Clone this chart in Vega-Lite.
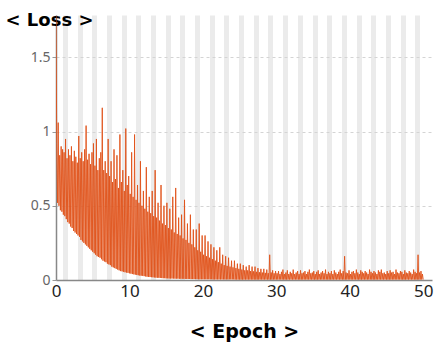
{
  "$schema": "https://vega.github.io/schema/vega-lite/v6.json",
  "width": 376,
  "height": 265,
  "autosize": {"type": "none"},
  "padding": {"left": 56, "top": 15, "right": 3, "bottom": 65},
  "background": "white",
  "config": {"view": {"stroke": null}, "font": "Noto Sans"},
  "data": {"values": [
{"e":0,"l":1.78},{"e":0.1,"l":0.92},{"e":0.2,"l":0.52},{"e":0.3,"l":1.06},{"e":0.4,"l":0.50},{"e":0.5,"l":0.84},{"e":0.6,"l":0.47},{"e":0.7,"l":0.90},{"e":0.8,"l":0.46},{"e":0.9,"l":0.88},
{"e":1,"l":0.44},{"e":1.1,"l":0.86},{"e":1.2,"l":0.43},{"e":1.3,"l":0.95},{"e":1.4,"l":0.41},{"e":1.5,"l":0.82},{"e":1.6,"l":0.39},{"e":1.7,"l":0.88},{"e":1.8,"l":0.38},{"e":1.9,"l":0.84},
{"e":2,"l":0.36},{"e":2.1,"l":0.90},{"e":2.2,"l":0.35},{"e":2.3,"l":0.80},{"e":2.4,"l":0.33},{"e":2.5,"l":0.87},{"e":2.6,"l":0.32},{"e":2.7,"l":0.83},{"e":2.8,"l":0.31},{"e":2.9,"l":0.79},
{"e":3,"l":0.30},{"e":3.1,"l":0.97},{"e":3.2,"l":0.29},{"e":3.3,"l":0.82},{"e":3.4,"l":0.27},{"e":3.5,"l":0.86},{"e":3.6,"l":0.26},{"e":3.7,"l":0.80},{"e":3.8,"l":0.25},{"e":3.9,"l":0.88},
{"e":4,"l":0.24},{"e":4.1,"l":1.04},{"e":4.2,"l":0.23},{"e":4.3,"l":0.81},{"e":4.4,"l":0.22},{"e":4.5,"l":0.85},{"e":4.6,"l":0.21},{"e":4.7,"l":0.78},{"e":4.8,"l":0.20},{"e":4.9,"l":0.86},
{"e":5,"l":0.19},{"e":5.1,"l":0.92},{"e":5.2,"l":0.18},{"e":5.3,"l":0.77},{"e":5.4,"l":0.17},{"e":5.5,"l":0.95},{"e":5.6,"l":0.16},{"e":5.7,"l":0.74},{"e":5.8,"l":0.155},{"e":5.9,"l":0.82},
{"e":6,"l":0.15},{"e":6.1,"l":0.86},{"e":6.2,"l":0.14},{"e":6.3,"l":1.16},{"e":6.4,"l":0.13},{"e":6.5,"l":0.74},{"e":6.6,"l":0.125},{"e":6.7,"l":0.80},{"e":6.8,"l":0.12},{"e":6.9,"l":0.72},
{"e":7,"l":0.11},{"e":7.1,"l":0.95},{"e":7.2,"l":0.105},{"e":7.3,"l":0.70},{"e":7.4,"l":0.10},{"e":7.5,"l":0.80},{"e":7.6,"l":0.09},{"e":7.7,"l":0.66},{"e":7.8,"l":0.085},{"e":7.9,"l":0.88},
{"e":8,"l":0.08},{"e":8.1,"l":0.68},{"e":8.2,"l":0.075},{"e":8.3,"l":0.84},{"e":8.4,"l":0.07},{"e":8.5,"l":0.62},{"e":8.6,"l":0.065},{"e":8.7,"l":0.98},{"e":8.8,"l":0.06},{"e":8.9,"l":0.66},
{"e":9,"l":0.058},{"e":9.1,"l":0.74},{"e":9.2,"l":0.055},{"e":9.3,"l":0.60},{"e":9.4,"l":0.052},{"e":9.5,"l":1.02},{"e":9.6,"l":0.05},{"e":9.7,"l":0.64},{"e":9.8,"l":0.048},{"e":9.9,"l":0.70},
{"e":10,"l":0.045},{"e":10.1,"l":0.58},{"e":10.2,"l":0.043},{"e":10.3,"l":0.86},{"e":10.4,"l":0.04},{"e":10.5,"l":0.56},{"e":10.6,"l":0.038},{"e":10.7,"l":0.98},{"e":10.8,"l":0.036},{"e":10.9,"l":0.54},
{"e":11,"l":0.034},{"e":11.1,"l":0.64},{"e":11.2,"l":0.032},{"e":11.3,"l":0.52},{"e":11.4,"l":0.03},{"e":11.5,"l":0.80},{"e":11.6,"l":0.029},{"e":11.7,"l":0.50},{"e":11.8,"l":0.028},{"e":11.9,"l":0.60},
{"e":12,"l":0.026},{"e":12.1,"l":0.48},{"e":12.2,"l":0.024},{"e":12.3,"l":0.76},{"e":12.4,"l":0.022},{"e":12.5,"l":0.46},{"e":12.6,"l":0.021},{"e":12.7,"l":0.56},{"e":12.8,"l":0.02},{"e":12.9,"l":0.45},
{"e":13,"l":0.019},{"e":13.1,"l":0.60},{"e":13.2,"l":0.018},{"e":13.3,"l":0.43},{"e":13.4,"l":0.017},{"e":13.5,"l":0.74},{"e":13.6,"l":0.016},{"e":13.7,"l":0.42},{"e":13.8,"l":0.015},{"e":13.9,"l":0.52},
{"e":14,"l":0.015},{"e":14.1,"l":0.40},{"e":14.2,"l":0.014},{"e":14.3,"l":0.64},{"e":14.4,"l":0.013},{"e":14.5,"l":0.38},{"e":14.6,"l":0.012},{"e":14.7,"l":0.50},{"e":14.8,"l":0.012},{"e":14.9,"l":0.37},
{"e":15,"l":0.011},{"e":15.1,"l":0.52},{"e":15.2,"l":0.011},{"e":15.3,"l":0.35},{"e":15.4,"l":0.01},{"e":15.5,"l":0.48},{"e":15.6,"l":0.01},{"e":15.7,"l":0.34},{"e":15.8,"l":0.01},{"e":15.9,"l":0.56},
{"e":16,"l":0.01},{"e":16.1,"l":0.32},{"e":16.2,"l":0.009},{"e":16.3,"l":0.62},{"e":16.4,"l":0.009},{"e":16.5,"l":0.31},{"e":16.6,"l":0.009},{"e":16.7,"l":0.42},{"e":16.8,"l":0.008},{"e":16.9,"l":0.30},
{"e":17,"l":0.008},{"e":17.1,"l":0.44},{"e":17.2,"l":0.008},{"e":17.3,"l":0.28},{"e":17.4,"l":0.008},{"e":17.5,"l":0.54},{"e":17.6,"l":0.007},{"e":17.7,"l":0.27},{"e":17.8,"l":0.007},{"e":17.9,"l":0.38},
{"e":18,"l":0.007},{"e":18.1,"l":0.25},{"e":18.2,"l":0.007},{"e":18.3,"l":0.44},{"e":18.4,"l":0.006},{"e":18.5,"l":0.24},{"e":18.6,"l":0.006},{"e":18.7,"l":0.34},{"e":18.8,"l":0.006},{"e":18.9,"l":0.22},
{"e":19,"l":0.006},{"e":19.1,"l":0.34},{"e":19.2,"l":0.006},{"e":19.3,"l":0.20},{"e":19.4,"l":0.005},{"e":19.5,"l":0.38},{"e":19.6,"l":0.005},{"e":19.7,"l":0.19},{"e":19.8,"l":0.005},{"e":19.9,"l":0.30},
{"e":20,"l":0.005},{"e":20.1,"l":0.17},{"e":20.2,"l":0.005},{"e":20.3,"l":0.30},{"e":20.4,"l":0.005},{"e":20.5,"l":0.16},{"e":20.6,"l":0.005},{"e":20.7,"l":0.26},{"e":20.8,"l":0.005},{"e":20.9,"l":0.15},
{"e":21,"l":0.005},{"e":21.1,"l":0.24},{"e":21.2,"l":0.005},{"e":21.3,"l":0.14},{"e":21.4,"l":0.004},{"e":21.5,"l":0.22},{"e":21.6,"l":0.004},{"e":21.7,"l":0.13},{"e":21.8,"l":0.004},{"e":21.9,"l":0.20},
{"e":22,"l":0.004},{"e":22.1,"l":0.12},{"e":22.2,"l":0.004},{"e":22.3,"l":0.22},{"e":22.4,"l":0.004},{"e":22.5,"l":0.11},{"e":22.6,"l":0.004},{"e":22.7,"l":0.17},{"e":22.8,"l":0.004},{"e":22.9,"l":0.10},
{"e":23,"l":0.004},{"e":23.1,"l":0.16},{"e":23.2,"l":0.004},{"e":23.3,"l":0.095},{"e":23.4,"l":0.004},{"e":23.5,"l":0.15},{"e":23.6,"l":0.004},{"e":23.7,"l":0.09},{"e":23.8,"l":0.004},{"e":23.9,"l":0.13},
{"e":24,"l":0.004},{"e":24.1,"l":0.085},{"e":24.2,"l":0.004},{"e":24.3,"l":0.13},{"e":24.4,"l":0.003},{"e":24.5,"l":0.08},{"e":24.6,"l":0.003},{"e":24.7,"l":0.11},{"e":24.8,"l":0.003},{"e":24.9,"l":0.075},
{"e":25,"l":0.003},{"e":25.1,"l":0.11},{"e":25.2,"l":0.003},{"e":25.3,"l":0.07},{"e":25.4,"l":0.003},{"e":25.5,"l":0.10},{"e":25.6,"l":0.003},{"e":25.7,"l":0.065},{"e":25.8,"l":0.003},{"e":25.9,"l":0.09},
{"e":26,"l":0.003},{"e":26.1,"l":0.065},{"e":26.2,"l":0.003},{"e":26.3,"l":0.10},{"e":26.4,"l":0.003},{"e":26.5,"l":0.06},{"e":26.6,"l":0.003},{"e":26.7,"l":0.09},{"e":26.8,"l":0.003},{"e":26.9,"l":0.058},
{"e":27,"l":0.003},{"e":27.1,"l":0.09},{"e":27.2,"l":0.003},{"e":27.3,"l":0.055},{"e":27.4,"l":0.003},{"e":27.5,"l":0.08},{"e":27.6,"l":0.003},{"e":27.7,"l":0.052},{"e":27.8,"l":0.003},{"e":27.9,"l":0.075},
{"e":28,"l":0.003},{"e":28.1,"l":0.05},{"e":28.2,"l":0.003},{"e":28.3,"l":0.075},{"e":28.4,"l":0.003},{"e":28.5,"l":0.048},{"e":28.6,"l":0.003},{"e":28.7,"l":0.07},{"e":28.8,"l":0.003},{"e":28.9,"l":0.046},
{"e":29,"l":0.003},{"e":29.1,"l":0.17},{"e":29.2,"l":0.003},{"e":29.3,"l":0.05},{"e":29.4,"l":0.003},{"e":29.5,"l":0.065},{"e":29.6,"l":0.003},{"e":29.7,"l":0.045},{"e":29.8,"l":0.003},{"e":29.9,"l":0.06},
{"e":30,"l":0.003},{"e":30.1,"l":0.045},{"e":30.2,"l":0.003},{"e":30.3,"l":0.06},{"e":30.4,"l":0.003},{"e":30.5,"l":0.04},{"e":30.6,"l":0.003},{"e":30.7,"l":0.055},{"e":30.8,"l":0.003},{"e":30.9,"l":0.07},
{"e":31,"l":0.003},{"e":31.1,"l":0.04},{"e":31.2,"l":0.003},{"e":31.3,"l":0.05},{"e":31.4,"l":0.003},{"e":31.5,"l":0.065},{"e":31.6,"l":0.003},{"e":31.7,"l":0.04},{"e":31.8,"l":0.003},{"e":31.9,"l":0.055},
{"e":32,"l":0.003},{"e":32.1,"l":0.045},{"e":32.2,"l":0.003},{"e":32.3,"l":0.07},{"e":32.4,"l":0.003},{"e":32.5,"l":0.04},{"e":32.6,"l":0.003},{"e":32.7,"l":0.05},{"e":32.8,"l":0.003},{"e":32.9,"l":0.06},
{"e":33,"l":0.003},{"e":33.1,"l":0.04},{"e":33.2,"l":0.003},{"e":33.3,"l":0.065},{"e":33.4,"l":0.003},{"e":33.5,"l":0.045},{"e":33.6,"l":0.003},{"e":33.7,"l":0.05},{"e":33.8,"l":0.003},{"e":33.9,"l":0.06},
{"e":34,"l":0.003},{"e":34.1,"l":0.04},{"e":34.2,"l":0.003},{"e":34.3,"l":0.055},{"e":34.4,"l":0.003},{"e":34.5,"l":0.07},{"e":34.6,"l":0.003},{"e":34.7,"l":0.045},{"e":34.8,"l":0.003},{"e":34.9,"l":0.05},
{"e":35,"l":0.003},{"e":35.1,"l":0.06},{"e":35.2,"l":0.003},{"e":35.3,"l":0.04},{"e":35.4,"l":0.003},{"e":35.5,"l":0.055},{"e":35.6,"l":0.003},{"e":35.7,"l":0.065},{"e":35.8,"l":0.003},{"e":35.9,"l":0.04},
{"e":36,"l":0.003},{"e":36.1,"l":0.05},{"e":36.2,"l":0.003},{"e":36.3,"l":0.06},{"e":36.4,"l":0.003},{"e":36.5,"l":0.045},{"e":36.6,"l":0.003},{"e":36.7,"l":0.07},{"e":36.8,"l":0.003},{"e":36.9,"l":0.04},
{"e":37,"l":0.003},{"e":37.1,"l":0.055},{"e":37.2,"l":0.003},{"e":37.3,"l":0.045},{"e":37.4,"l":0.003},{"e":37.5,"l":0.06},{"e":37.6,"l":0.003},{"e":37.7,"l":0.04},{"e":37.8,"l":0.003},{"e":37.9,"l":0.065},
{"e":38,"l":0.003},{"e":38.1,"l":0.05},{"e":38.2,"l":0.003},{"e":38.3,"l":0.04},{"e":38.4,"l":0.003},{"e":38.5,"l":0.055},{"e":38.6,"l":0.003},{"e":38.7,"l":0.07},{"e":38.8,"l":0.003},{"e":38.9,"l":0.045},
{"e":39,"l":0.003},{"e":39.1,"l":0.06},{"e":39.2,"l":0.003},{"e":39.3,"l":0.16},{"e":39.4,"l":0.003},{"e":39.5,"l":0.05},{"e":39.6,"l":0.003},{"e":39.7,"l":0.045},{"e":39.8,"l":0.003},{"e":39.9,"l":0.065},
{"e":40,"l":0.003},{"e":40.1,"l":0.04},{"e":40.2,"l":0.003},{"e":40.3,"l":0.055},{"e":40.4,"l":0.003},{"e":40.5,"l":0.06},{"e":40.6,"l":0.003},{"e":40.7,"l":0.045},{"e":40.8,"l":0.003},{"e":40.9,"l":0.07},
{"e":41,"l":0.003},{"e":41.1,"l":0.05},{"e":41.2,"l":0.003},{"e":41.3,"l":0.04},{"e":41.4,"l":0.003},{"e":41.5,"l":0.065},{"e":41.6,"l":0.003},{"e":41.7,"l":0.055},{"e":41.8,"l":0.003},{"e":41.9,"l":0.045},
{"e":42,"l":0.003},{"e":42.1,"l":0.06},{"e":42.2,"l":0.003},{"e":42.3,"l":0.05},{"e":42.4,"l":0.003},{"e":42.5,"l":0.04},{"e":42.6,"l":0.003},{"e":42.7,"l":0.07},{"e":42.8,"l":0.003},{"e":42.9,"l":0.055},
{"e":43,"l":0.003},{"e":43.1,"l":0.045},{"e":43.2,"l":0.003},{"e":43.3,"l":0.06},{"e":43.4,"l":0.003},{"e":43.5,"l":0.05},{"e":43.6,"l":0.003},{"e":43.7,"l":0.04},{"e":43.8,"l":0.003},{"e":43.9,"l":0.065},
{"e":44,"l":0.003},{"e":44.1,"l":0.055},{"e":44.2,"l":0.003},{"e":44.3,"l":0.07},{"e":44.4,"l":0.003},{"e":44.5,"l":0.045},{"e":44.6,"l":0.003},{"e":44.7,"l":0.05},{"e":44.8,"l":0.003},{"e":44.9,"l":0.04},
{"e":45,"l":0.003},{"e":45.1,"l":0.06},{"e":45.2,"l":0.003},{"e":45.3,"l":0.045},{"e":45.4,"l":0.003},{"e":45.5,"l":0.065},{"e":45.6,"l":0.003},{"e":45.7,"l":0.05},{"e":45.8,"l":0.003},{"e":45.9,"l":0.055},
{"e":46,"l":0.003},{"e":46.1,"l":0.04},{"e":46.2,"l":0.003},{"e":46.3,"l":0.07},{"e":46.4,"l":0.003},{"e":46.5,"l":0.05},{"e":46.6,"l":0.003},{"e":46.7,"l":0.045},{"e":46.8,"l":0.003},{"e":46.9,"l":0.06},
{"e":47,"l":0.003},{"e":47.1,"l":0.055},{"e":47.2,"l":0.003},{"e":47.3,"l":0.04},{"e":47.4,"l":0.003},{"e":47.5,"l":0.065},{"e":47.6,"l":0.003},{"e":47.7,"l":0.05},{"e":47.8,"l":0.003},{"e":47.9,"l":0.045},
{"e":48,"l":0.003},{"e":48.1,"l":0.06},{"e":48.2,"l":0.003},{"e":48.3,"l":0.05},{"e":48.4,"l":0.003},{"e":48.5,"l":0.04},{"e":48.6,"l":0.003},{"e":48.7,"l":0.07},{"e":48.8,"l":0.003},{"e":48.9,"l":0.055},
{"e":49,"l":0.003},{"e":49.1,"l":0.045},{"e":49.2,"l":0.003},{"e":49.3,"l":0.17},{"e":49.4,"l":0.003},{"e":49.5,"l":0.05},{"e":49.6,"l":0.003},{"e":49.7,"l":0.06},{"e":49.8,"l":0.003},{"e":49.9,"l":0.04},
{"e":50,"l":0.003}
  ]},
  "mark": {"type": "line", "color": "#e0521a", "strokeWidth": 1, "opacity": 0.9, "clip": true},
  "encoding": {
    "x": {
      "field": "e", "type": "quantitative",
      "scale": {"domain": [0, 51.2], "nice": false, "zero": false},
      "axis": {
        "values": [0,10,20,30,40,50,1.2,3.2,5.2,7.2,9.2,11.2,13.2,15.2,17.2,19.2,21.2,23.2,25.2,27.2,29.2,31.2,33.2,35.2,37.2,39.2,41.2,43.2,45.2,47.2,49.2],
        "format": "~g",
        "labelExpr": "datum.value % 10 === 0 ? datum.label : ''",
        "labelOverlap": false, "labelFlush": false, "labelBound": false,
        "ticks": false,
        "labelFontSize": 17, "labelColor": "#222", "labelPadding": 3,
        "domainColor": "#888", "domainWidth": 1.5,
        "grid": true, "gridWidth": 5, "gridColor": "#ebebeb",
        "gridOpacity": {"condition": {"test": "datum.value % 10 === 0", "value": 0}, "value": 1},
        "title": "< Epoch >", "titleFont": "DejaVu Sans", "titleFontSize": 19, "titleFontWeight": "bold", "titleColor": "#000",
        "titleY": 51, "titleBaseline": "middle"
      }
    },
    "y": {
      "field": "l", "type": "quantitative",
      "scale": {"domain": [0, 1.785], "nice": false},
      "axis": {
        "values": [0, 0.5, 1, 1.5],
        "format": "~g",
        "labelFontSize": 14, "labelColor": "#666", "labelPadding": 2,
        "tickSize": 4, "tickColor": "#999",
        "domainColor": "#888", "domainWidth": 1.5,
        "grid": true, "gridColor": "#d4d4d4", "gridDash": [3, 3], "gridWidth": 1,
        "gridOpacity": {"condition": {"test": "datum.value === 0", "value": 0}, "value": 1},
        "title": "< Loss >", "titleFont": "DejaVu Sans", "titleFontSize": 18, "titleFontWeight": "bold", "titleColor": "#000",
        "titleAngle": 0, "titleAlign": "left", "titleBaseline": "middle", "titleX": -51, "titleY": 5
      }
    }
  }
}
